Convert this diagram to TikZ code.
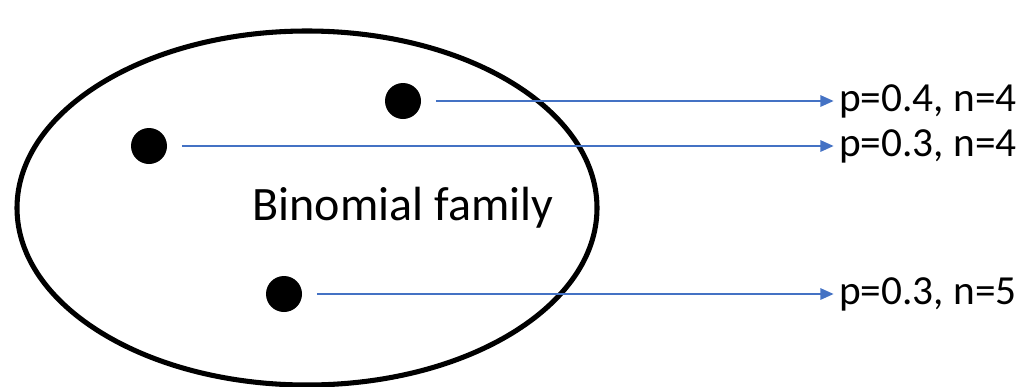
\documentclass[tikz,border=0pt]{standalone}
\usepackage{fontspec}
\setmainfont{Carlito}
\usetikzlibrary{arrows.meta}
\definecolor{linkblue}{RGB}{68,114,196}
\begin{document}
\begin{tikzpicture}[x=0.75pt, y=-0.75pt,
dot/.style={circle, fill=black, inner sep=0pt, minimum size=27pt},
param/.style={anchor=west, inner sep=0pt, font=\fontsize{31}{37}\selectfont},
link/.style={draw=linkblue, line width=1.6pt, -{Triangle[length=10pt, width=8.5pt]}, shorten <=11pt, shorten >=4pt}
]
\useasboundingbox (0,0) rectangle (1017,386);
\draw[line width=3.8pt] (307,208) ellipse [x radius=290, y radius=177];
\node[font=\fontsize{36}{43}\selectfont] (fam) at (403,208) {Binomial family};

\node[dot] (d1) at (403,101) {};
\node[dot] (d2) at (149,146) {};
\node[dot] (d3) at (284,294) {};

\node[param] (p1) at (839,101) {p=0.4, n=4};
\node[param] (p2) at (839,146) {p=0.3, n=4};
\node[param] (p3) at (839,294) {p=0.3, n=5};

\draw[link] (d1) -- (p1);
\draw[link] (d2) -- (p2);
\draw[link] (d3) -- (p3);
\end{tikzpicture}
\end{document}
